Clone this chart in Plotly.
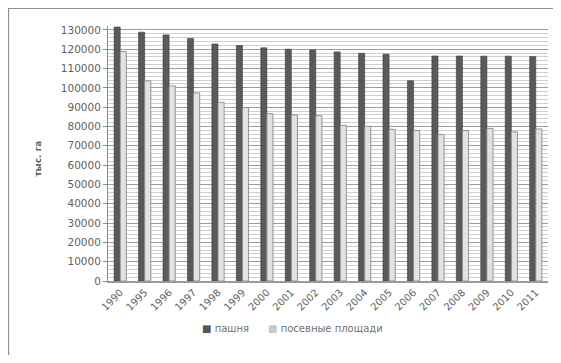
import plotly.graph_objects as go

# Годы
years = ["1990", "1995", "1996", "1997", "1998", "1999", "2000", "2001", "2002", "2003", "2004",
         "2005", "2006", "2007", "2008", "2009", "2010", "2011"]

# Пашня, тыс. га
pashnya = [131500, 128800, 127400, 125500, 122700, 121900, 120700, 120000, 119600, 118600,
           117900, 117400, 103700, 116500, 116500, 116400, 116400, 116200]

# Посевные площади, тыс. га
posevnye = [118800, 103600, 101000, 97400, 92500, 89800, 86600, 86000, 85600, 80600,
            80100, 78500, 77900, 75800, 77900, 79000, 77200, 78700]

series_names = ["пашня", "посевные площади"]
series_colors = ["#5a5a5a", "#e2e2e2"]

fig = go.Figure()

fig.add_trace(go.Bar(
    x=years, y=pashnya, name=series_names[0],
    marker=dict(color=series_colors[0], line=dict(color="#3c3c3c", width=0.6)),
))
fig.add_trace(go.Bar(
    x=years, y=posevnye, name=series_names[1],
    marker=dict(color=series_colors[1], line=dict(color="#8a8a8a", width=0.9)),
))

font_main = "DejaVu Sans"

# страница даёт отступ 8px со всех сторон, поэтому фигура меньше окна на 16
fig.update_layout(
    width=545, height=347,
    margin=dict(l=100, r=5, t=18, b=74),
    paper_bgcolor="white",
    plot_bgcolor="white",
    barmode="group",
    bargap=0.5,
    bargroupgap=0,
    font=dict(family=font_main, size=10, color="#5f5f5f"),
    showlegend=False,
)

fig.update_xaxes(
    type="category",
    tickangle=-45,
    tickfont=dict(size=10, color="#5f5f5f"),
    showgrid=False,
    showline=True, linecolor="#9a9a9a", linewidth=1.5,
    ticks="",
    automargin=False,
)

fig.update_yaxes(
    range=[0, 132000],
    tickvals=list(range(0, 130001, 10000)),
    tickformat="d",
    tickfont=dict(size=10.5, color="#5f5f5f"),
    showgrid=True, gridcolor="#9c9c9c", gridwidth=1,
    minor=dict(dtick=2000, showgrid=True, gridcolor="#cfcfcf", gridwidth=1),
    showline=True, linecolor="#8c8c8c", linewidth=1,
    ticks="outside", ticklen=4, tickcolor="#8c8c8c",
    zeroline=False,
    automargin=False,
)

# Подпись оси Y
fig.add_annotation(
    text="<b>тыс. га</b>", textangle=-90,
    xref="paper", yref="paper", x=-0.175, y=0.48,
    showarrow=False, font=dict(size=9, color="#5f5f5f"),
)

# Легенда (компактная, как в исходнике)
legend_text = (
    f'<span style="color:#555555">■</span> {series_names[0]}'
    f'      <span style="color:#c8c8c8">■</span> {series_names[1]}'
)
fig.add_annotation(
    text=legend_text,
    xref="paper", yref="paper", x=0.21, xanchor="left", y=-0.188, yanchor="middle",
    showarrow=False, font=dict(size=10, color="#707070"),
)

# Рамка диаграммы (видны только верх и левый край)
fig.add_shape(type="line", xref="paper", yref="paper",
              x0=-0.227, x1=1.1, y0=1.071, y1=1.071,
              line=dict(color="#8e8e8e", width=2))
fig.add_shape(type="line", xref="paper", yref="paper",
              x0=-0.227, x1=-0.227, y0=-0.5, y1=1.071,
              line=dict(color="#8e8e8e", width=2))

fig.write_html("out.html")
